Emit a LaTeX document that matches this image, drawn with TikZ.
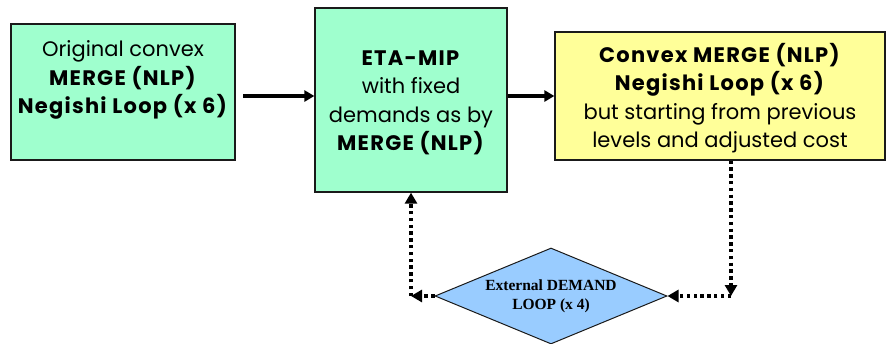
\documentclass[tikz,border=0pt]{standalone}
\usepackage{fontspec}
\setmainfont{Poppins}[BoldFeatures={LetterSpace=6}]
\newfontfamily\diamondfont{Liberation Serif}
\usetikzlibrary{shapes.geometric,arrows.meta}

\definecolor{mintfill}{HTML}{9FFFCE}
\definecolor{lemonfill}{HTML}{FFFF99}
\definecolor{skyfill}{HTML}{99CCFF}
\definecolor{edgegray}{HTML}{1A1A1A}

\tikzset{
  boxtext/.style={align=center, font=\fontsize{21}{28.5}\selectfont},
  procbox/.style={draw=edgegray, line width=1.3pt, inner sep=0pt},
  flow/.style={line width=3.2pt, -{Triangle[length=10pt,width=11pt]}},
  loopflow/.style={line width=3.4pt, dash pattern=on 3.4pt off 3.4pt,
    -{Triangle[length=11pt,width=12pt]}},
  decision/.style={diamond, draw=edgegray, line width=1pt, fill=skyfill,
    aspect=2.42, minimum width=232pt, minimum height=96pt, inner sep=0pt,
    align=center, font=\diamondfont\bfseries\fontsize{15.5}{19}\selectfont}
}

\begin{document}
\begin{tikzpicture}[x=1pt,y=-1pt]
  \useasboundingbox (0,0) rectangle (886,343);

  % process boxes
  \node[procbox, fill=mintfill, minimum width=224pt, minimum height=136pt] (orig) at (123,92) {};
  \node[boxtext] (origtxt) at (123,80)
    {Original convex\\\textbf{MERGE (NLP)}\\\textbf{Negishi Loop (x 6)}};

  \node[procbox, fill=mintfill, minimum width=192pt, minimum height=184pt] (eta) at (411,100) {};
  \node[boxtext] (etatxt) at (411,103)
    {\textbf{ETA-MIP}\\with fixed\\demands as by\\\textbf{MERGE (NLP)}};

  \node[procbox, fill=lemonfill, minimum width=330pt, minimum height=128pt] (conv) at (720,96) {};
  \node[boxtext] (convtxt) at (720,98)
    {\textbf{Convex MERGE (NLP)}\\\textbf{Negishi Loop (x 6)}\\but starting from previous\\levels and adjusted cost};

  % decision diamond
  \node[decision] (ext) at (551,296) {External DEMAND\\LOOP (x 4)};

  % arrow start and loop corners
  \coordinate (fstart) at (243,96);
  \coordinate (rcorner) at (731,296);
  \coordinate (lcorner) at (411,296);

  % main flow
  \draw[flow] (fstart) -- (eta.west |- fstart);
  \draw[flow] (eta.east |- fstart) -- (conv.west |- fstart);

  % external demand loop
  \draw[loopflow] (conv.south -| rcorner) -- (rcorner);
  \draw[loopflow] (rcorner) -- (ext.east);
  \draw[loopflow] (ext.west) -- (lcorner);
  \draw[loopflow] (lcorner) -- (eta.south -| lcorner);
\end{tikzpicture}
\end{document}
